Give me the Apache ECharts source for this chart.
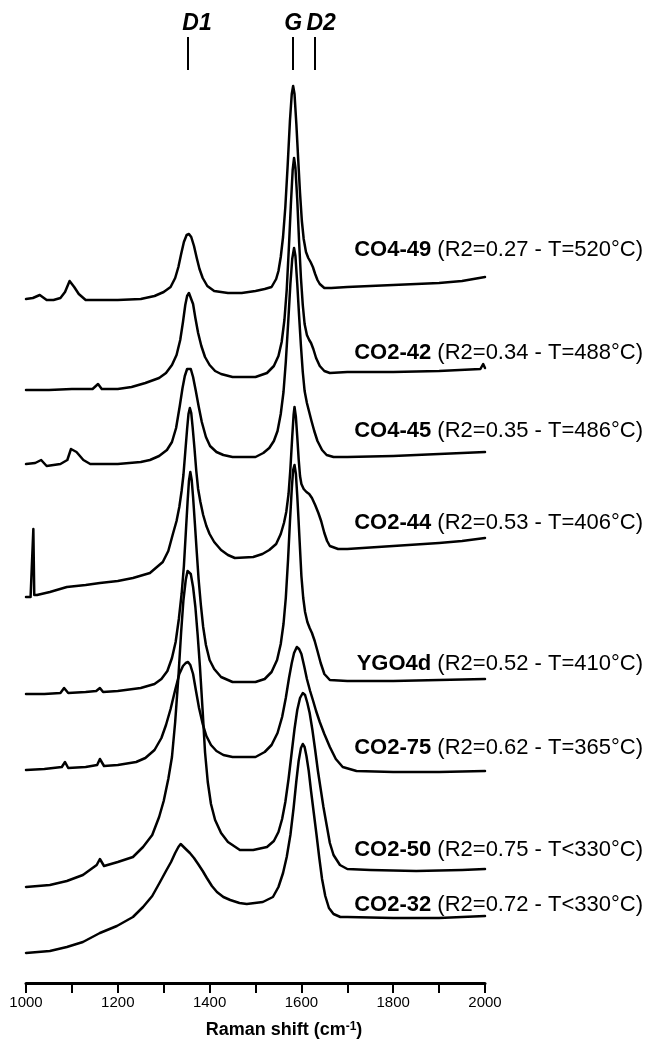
<!DOCTYPE html>
<html><head><meta charset="utf-8">
<script src="https://cdn.jsdelivr.net/npm/echarts@6/dist/echarts.min.js"></script>
<style>html,body{margin:0;padding:0;background:#fff}#c{width:647px;height:1039px}</style>
</head><body><div id="c"></div>
<script>
// Sample names and annotation text
const sampleNames = ['CO4-49','CO2-42','CO4-45','CO2-44','YGO4d','CO2-75','CO2-50','CO2-32'];
const sampleDetails = [' (R2=0.27 - T=520°C)',' (R2=0.34 - T=488°C)',' (R2=0.35 - T=486°C)',' (R2=0.53 - T=406°C)',' (R2=0.52 - T=410°C)',' (R2=0.62 - T=365°C)',' (R2=0.75 - T<330°C)',' (R2=0.72 - T<330°C)'];
// vertical stacking offsets (a.u.)
const offsets = [684, 593, 519, 386, 289, 213, 96, 30];
// band markers
const bandNames = ['D1','G','D2'];
const bandPositions = [1353, 1582, 1630];
// x-axis tick labels
const xTickLabels = [1000, 1200, 1400, 1600, 1800, 2000];

// spectra: [Raman shift (cm-1), relative intensity (a.u.)]
const CO4_49 = [[1000,0],[1015,1],[1030,4],[1045,-1],[1060,-1],[1075,1],[1085,7],[1095,18],[1105,12],[1115,5],[1130,-1],[1160,-1],[1200,-1],[1250,0],[1280,3],[1300,7],[1315,12],[1325,21],[1332,32],[1338,45],[1344,57],[1350,64],[1355,65],[1360,62],[1366,53],[1372,41],[1378,30],[1385,21],[1395,13],[1410,8],[1440,6],[1470,6],[1500,8],[1520,10],[1535,12],[1545,20],[1550,28],[1555,42],[1560,62],[1565,92],[1570,133],[1575,178],[1579,205],[1582,213],[1585,205],[1589,175],[1593,140],[1597,106],[1601,78],[1605,60],[1610,47],[1615,41],[1620,37],[1625,32],[1630,25],[1635,19],[1640,15],[1650,11],[1665,11],[1700,12],[1750,13],[1800,14],[1850,15],[1900,16],[1950,18],[2000,22]];
const CO2_42 = [[1000,0],[1050,0],[1100,1],[1145,1],[1157,6],[1165,1],[1200,1],[1230,3],[1260,7],[1290,12],[1305,17],[1318,25],[1328,35],[1336,50],[1342,68],[1347,85],[1351,94],[1355,97],[1359,95],[1364,86],[1369,72],[1375,57],[1382,44],[1390,33],[1400,25],[1412,19],[1425,16],[1450,13],[1500,13],[1525,17],[1540,24],[1550,34],[1557,48],[1563,70],[1568,100],[1573,145],[1577,185],[1581,220],[1584,232],[1587,222],[1591,190],[1595,148],[1599,112],[1603,85],[1607,66],[1612,55],[1617,50],[1621,47],[1626,41],[1632,32],[1640,24],[1650,19],[1662,17],[1700,18],[1800,18],[1900,19],[1990,21],[1996,26],[2000,22]];
const CO4_45 = [[1000,0],[1020,1],[1033,4],[1045,-2],[1075,0],[1090,4],[1098,15],[1110,12],[1125,4],[1140,0],[1200,0],[1250,2],[1270,4],[1290,8],[1307,14],[1318,22],[1327,36],[1335,58],[1341,76],[1346,88],[1351,95],[1355,97],[1359,95],[1364,87],[1370,73],[1376,58],[1383,42],[1392,27],[1401,18],[1415,12],[1430,9],[1450,7],[1500,7],[1517,11],[1530,16],[1540,23],[1548,33],[1555,50],[1561,72],[1566,102],[1571,140],[1576,180],[1580,205],[1584,216],[1587,208],[1591,180],[1595,148],[1599,118],[1603,92],[1607,73],[1612,61],[1617,52],[1622,43],[1628,33],[1635,23],[1645,14],[1655,9],[1670,7],[1700,7],[1800,8],[1900,10],[2000,12]];
const CO2_44 = [[1000,0],[1010,0],[1014,1],[1016,68],[1018,2],[1024,2],[1052,5],[1089,10],[1130,12],[1161,14],[1200,16],[1233,19],[1270,24],[1298,35],[1310,46],[1320,63],[1328,76],[1334,90],[1339,106],[1343,122],[1347,145],[1351,168],[1354,183],[1357,189],[1360,184],[1363,170],[1367,149],[1371,126],[1375,108],[1380,95],[1386,82],[1393,71],[1400,63],[1410,55],[1425,47],[1440,42],[1455,39],[1495,40],[1515,43],[1530,47],[1545,53],[1555,63],[1562,74],[1567,85],[1572,103],[1576,128],[1580,160],[1583,182],[1585,190],[1588,180],[1591,160],[1594,138],[1597,121],[1600,113],[1605,108],[1611,105],[1617,103],[1623,99],[1630,92],[1637,84],[1643,76],[1650,64],[1656,56],[1662,51],[1680,48],[1700,48],[1800,51],[1900,54],[1950,56],[2000,59]];
const YGO4d = [[1000,0],[1040,0],[1075,1],[1083,6],[1092,1],[1130,2],[1153,3],[1161,6],[1168,2],[1200,3],[1250,6],[1280,10],[1295,15],[1308,23],[1318,36],[1326,52],[1333,75],[1339,100],[1344,128],[1348,160],[1352,192],[1355,213],[1358,222],[1361,214],[1364,197],[1368,170],[1372,142],[1376,115],[1381,89],[1386,67],[1392,49],[1400,34],[1410,25],[1425,17],[1450,12],[1500,12],[1520,15],[1535,22],[1547,34],[1555,50],[1561,70],[1566,96],[1571,135],[1575,172],[1579,205],[1582,224],[1585,229],[1588,220],[1591,198],[1594,172],[1597,145],[1600,118],[1604,96],[1608,82],[1613,72],[1618,66],[1623,61],[1629,53],[1635,43],[1642,31],[1650,20],[1662,14],[1700,13],[1800,13],[1900,14],[2000,15]];
const CO2_75 = [[1000,0],[1040,1],[1078,3],[1085,8],[1092,2],[1130,3],[1155,5],[1161,11],[1170,4],[1200,5],[1240,8],[1260,12],[1280,20],[1295,32],[1305,45],[1315,61],[1325,80],[1334,96],[1342,104],[1348,107],[1353,108],[1358,105],[1364,96],[1370,80],[1377,62],[1385,46],[1393,34],[1403,25],[1415,19],[1430,15],[1450,13],[1500,13],[1520,18],[1535,25],[1548,37],[1558,53],[1566,72],[1573,92],[1579,107],[1584,117],[1590,123],[1595,121],[1600,116],[1606,104],[1612,91],[1619,79],[1625,70],[1632,59],[1640,48],[1650,36],[1662,23],[1675,11],[1690,3],[1720,-1],[1800,-2],[1900,-2],[2000,-1]];
const CO2_50 = [[1000,0],[1052,2],[1089,6],[1124,12],[1154,22],[1161,28],[1170,21],[1200,25],[1233,30],[1255,40],[1275,52],[1290,70],[1300,86],[1310,108],[1318,130],[1325,165],[1332,210],[1338,255],[1343,287],[1348,307],[1352,316],[1355,318],[1359,313],[1364,300],[1369,280],[1374,252],[1379,220],[1385,175],[1390,135],[1396,105],[1403,83],[1412,67],[1425,54],[1440,45],[1466,37],[1495,37],[1525,40],[1540,46],[1550,55],[1558,68],[1565,85],[1572,108],[1579,135],[1585,158],[1591,177],[1597,189],[1603,194],[1608,192],[1613,184],[1618,174],[1624,157],[1630,137],[1636,116],[1642,98],[1648,80],[1655,62],[1662,44],[1670,32],[1684,22],[1700,18],[1750,17],[1850,16],[1950,17],[2000,18]];
const CO2_32 = [[1000,0],[1052,2],[1089,6],[1124,11],[1161,20],[1198,27],[1233,36],[1255,46],[1275,57],[1292,71],[1305,82],[1316,91],[1325,100],[1332,106],[1337,109],[1341,108],[1348,104],[1357,100],[1366,95],[1375,89],[1385,82],[1394,75],[1405,67],[1416,61],[1430,56],[1445,53],[1465,50],[1481,49],[1516,51],[1538,56],[1550,66],[1560,80],[1568,96],[1576,118],[1583,145],[1589,172],[1594,192],[1599,205],[1603,209],[1607,206],[1611,197],[1616,182],[1621,162],[1627,140],[1633,118],[1639,95],[1645,74],[1652,57],[1660,45],[1670,39],[1685,36],[1700,36],[1800,35],[1900,35],[2000,37]];

const spectra = [CO4_49, CO2_42, CO4_45, CO2_44, YGO4d, CO2_75, CO2_50, CO2_32];
// label vertical positions (layout)
const labelY = [250, 353, 431, 523, 664, 748, 850, 905];

const FONT = '"Liberation Sans", Arial, Helvetica, sans-serif';
const chart = echarts.init(document.getElementById('c'), null, {renderer: 'canvas'});

const series = spectra.map((s, i) => ({
  type: 'line',
  name: sampleNames[i],
  data: s.map(p => [p[0], p[1] + offsets[i]]),
  symbol: 'none',
  smooth: false,
  lineStyle: {color: '#000', width: 2.5, join: 'round', cap: 'round'},
  silent: true,
  animation: false,
  z: 2
}));

const bandPad = [[0,0,0,18],[0,0,0,0],[0,0,0,12]];
series[0].markLine = {
  silent: true,
  symbol: ['none','none'],
  animation: false,
  lineStyle: {color: '#000', width: 2, type: 'solid'},
  label: {show: true, position: 'end', formatter: '{b}', color: '#000', fontSize: 23, fontWeight: 'bold', fontStyle: 'italic', fontFamily: FONT, distance: 2},
  data: bandNames.map((b, i) => [
    {coord: [bandPositions[i], 913], name: b, label: {padding: bandPad[i]}},
    {coord: [bandPositions[i], 946]}
  ])
};

const graphics = sampleNames.map((n, i) => ({
  type: 'text',
  x: 643, y: labelY[i],
  style: {
    text: '{b|' + n + '}{r|' + sampleDetails[i] + '}',
    align: 'right', verticalAlign: 'middle',
    rich: {
      b: {fontWeight: 'bold', fontSize: 22, fontFamily: FONT, fill: '#000'},
      r: {fontWeight: 'normal', fontSize: 22, fontFamily: FONT, fill: '#000'}
    }
  }
}));
graphics.push({
  type: 'text', x: 284, y: 1030,
  style: {
    text: '{t|Raman shift (cm}{s|-1}{t|)}',
    align: 'center', verticalAlign: 'middle',
    rich: {
      t: {fontWeight: 'bold', fontSize: 18, fontFamily: FONT, fill: '#000'},
      s: {fontWeight: 'bold', fontSize: 12, fontFamily: FONT, fill: '#000', verticalAlign: 'top'}
    }
  }
});

chart.setOption({
  animation: false,
  backgroundColor: '#fff',
  grid: {left: 26, right: 162, top: 0, bottom: 56, containLabel: false},
  xAxis: {
    type: 'value', min: 1000, max: 2000, interval: 100,
    axisLine: {show: true, lineStyle: {color: '#000', width: 3}},
    axisTick: {show: true, length: 10, lineStyle: {color: '#000', width: 2}},
    axisLabel: {
      color: '#000', fontSize: 15, fontFamily: FONT, margin: 12,
      formatter: v => (xTickLabels.indexOf(v) >= 0 ? String(v) : '')
    },
    splitLine: {show: false}
  },
  yAxis: {type: 'value', min: 0, max: 983, show: false, splitLine: {show: false}},
  series: series,
  graphic: graphics
});
</script>
</body></html>
